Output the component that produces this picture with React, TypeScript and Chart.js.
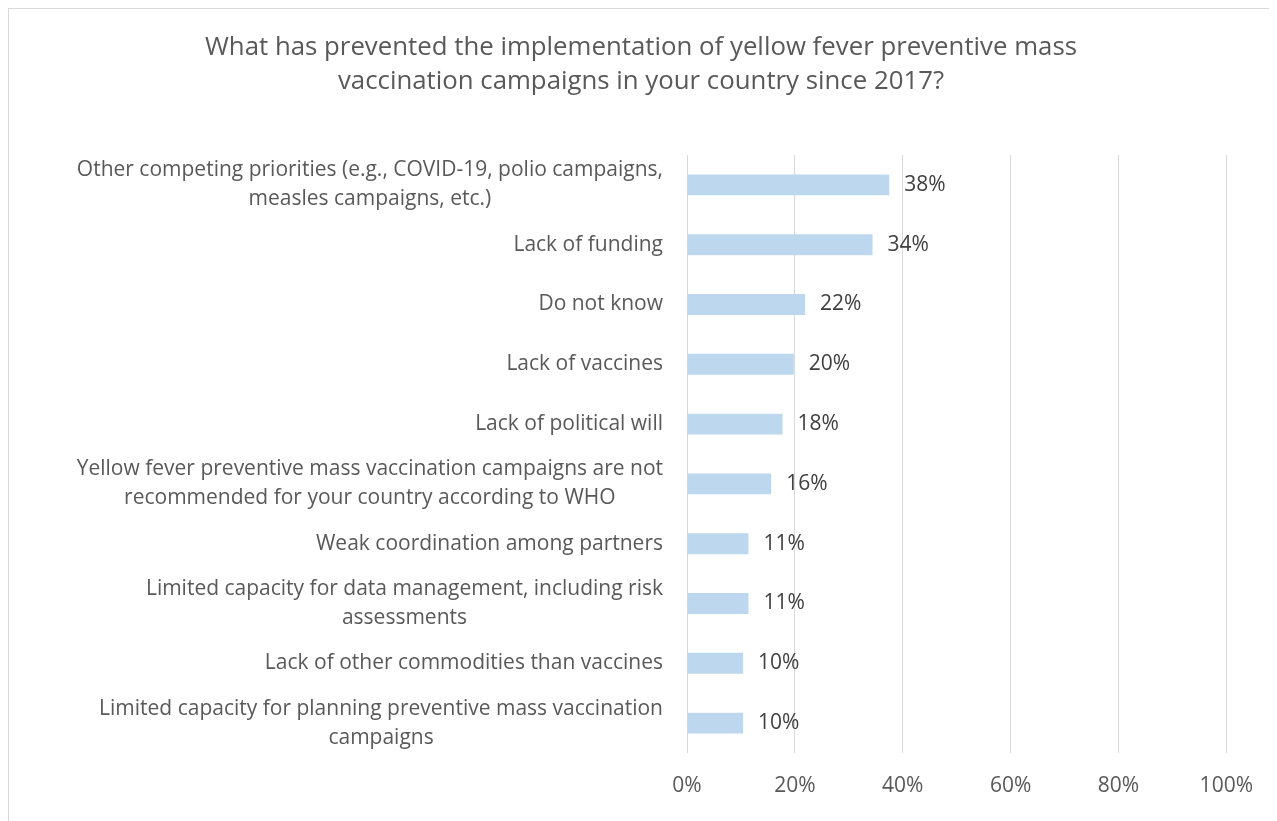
import React, { useEffect, useRef } from "react";
import { Chart, registerables } from "chart.js";

Chart.register(...registerables);

const titleLines: string[] = [
  "What has prevented the implementation of yellow fever preventive mass",
  "vaccination campaigns in your country since 2017?",
];

const categories: string[][] = [
  ["Other competing priorities (e.g., COVID-19, polio campaigns,", "measles campaigns, etc.)"],
  ["Lack of funding"],
  ["Do not know"],
  ["Lack of vaccines"],
  ["Lack of political will"],
  ["Yellow fever preventive mass vaccination campaigns are not", "recommended for your country according to WHO"],
  ["Weak coordination among partners"],
  ["Limited capacity for data management, including risk", "assessments"],
  ["Lack of other commodities than vaccines"],
  ["Limited capacity for planning preventive mass vaccination", "campaigns"],
];

const values: number[] = [37.5, 34.4, 21.9, 19.8, 17.7, 15.6, 11.4, 11.4, 10.4, 10.4];

const xTicks: number[] = [0, 20, 40, 60, 80, 100];

const FONT = '"Open Sans", sans-serif';

export default function App() {
  const ref = useRef<HTMLCanvasElement | null>(null);

  useEffect(() => {
    document.documentElement.style.overflow = "hidden";
    const canvas = ref.current;
    if (!canvas) return;

    const titlePlugin = {
      id: "customTitle",
      afterDraw(chart: any) {
        const ctx = chart.ctx;
        ctx.save();
        ctx.fillStyle = "#595959";
        ctx.font = `25.8px ${FONT}`;
        ctx.textAlign = "center";
        ctx.textBaseline = "middle";
        const cx = chart.width / 2;
        titleLines.forEach((t, i) => ctx.fillText(t, cx, 39 + i * 34));
        ctx.restore();
      },
    };

    const yLabelPlugin = {
      id: "yLabels",
      afterDraw(chart: any) {
        const ctx = chart.ctx;
        const ys = chart.scales.y;
        const right = chart.chartArea.left - 24;
        ctx.save();
        ctx.fillStyle = "#595959";
        ctx.font = `21px ${FONT}`;
        ctx.textBaseline = "middle";
        ctx.textAlign = "center";
        categories.forEach((lines, i) => {
          const y = ys.getPixelForValue(i);
          const w = Math.max(...lines.map((l) => ctx.measureText(l).width));
          const cx = right - w / 2;
          const lh = 29;
          const y0 = y - ((lines.length - 1) * lh) / 2;
          lines.forEach((l, j) => ctx.fillText(l, cx, y0 + j * lh));
        });
        ctx.restore();
      },
    };

    const dataLabelPlugin = {
      id: "dataLabels",
      afterDatasetsDraw(chart: any) {
        const ctx = chart.ctx;
        const meta = chart.getDatasetMeta(0);
        ctx.save();
        ctx.fillStyle = "#404040";
        ctx.font = `21px ${FONT}`;
        ctx.textBaseline = "middle";
        ctx.textAlign = "left";
        meta.data.forEach((bar: any, i: number) => {
          ctx.fillText(Math.round(values[i]) + "%", bar.x + 15, bar.y);
        });
        ctx.restore();
      },
    };

    const chart = new Chart(canvas, {
      type: "bar",
      data: {
        labels: categories.map((c) => c.join(" ")),
        datasets: [
          {
            data: values,
            backgroundColor: "#BDD7EE",
            borderWidth: 0,
            barPercentage: 0.35,
            categoryPercentage: 1,
          },
        ],
      },
      options: {
        indexAxis: "y",
        animation: false,
        responsive: false,
        devicePixelRatio: 1,
        layout: { padding: { top: 146, right: 43, left: 0, bottom: 0 } },
        plugins: {
          legend: { display: false },
          title: { display: false },
          tooltip: { enabled: false },
        },
        scales: {
          x: {
            min: 0,
            max: 100,
            afterFit: (s: any) => {
              s.height = 68;
            },
            afterBuildTicks: (s: any) => {
              s.ticks = xTicks.map((v) => ({ value: v }));
            },
            ticks: {
              callback: (v: any) => v + "%",
              color: "#595959",
              font: { family: FONT, size: 21 },
              padding: 20,
              maxRotation: 0,
            },
            grid: { color: "#D9D9D9", lineWidth: 1, drawTicks: false },
            border: { display: false },
          },
          y: {
            afterFit: (s: any) => {
              s.width = 678;
            },
            ticks: { display: false },
            grid: { display: false, drawTicks: false },
            border: { display: false },
          },
        },
      },
      plugins: [titlePlugin, yLabelPlugin, dataLabelPlugin],
    });

    return () => chart.destroy();
  }, []);

  return (
    <div
      style={{
        width: 1266,
        height: 830,
        border: "1px solid #D9D9D9",
        boxSizing: "border-box",
        background: "#fff",
      }}
    >
      <canvas ref={ref} width={1264} height={812} style={{ display: "block" }} />
    </div>
  );
}
